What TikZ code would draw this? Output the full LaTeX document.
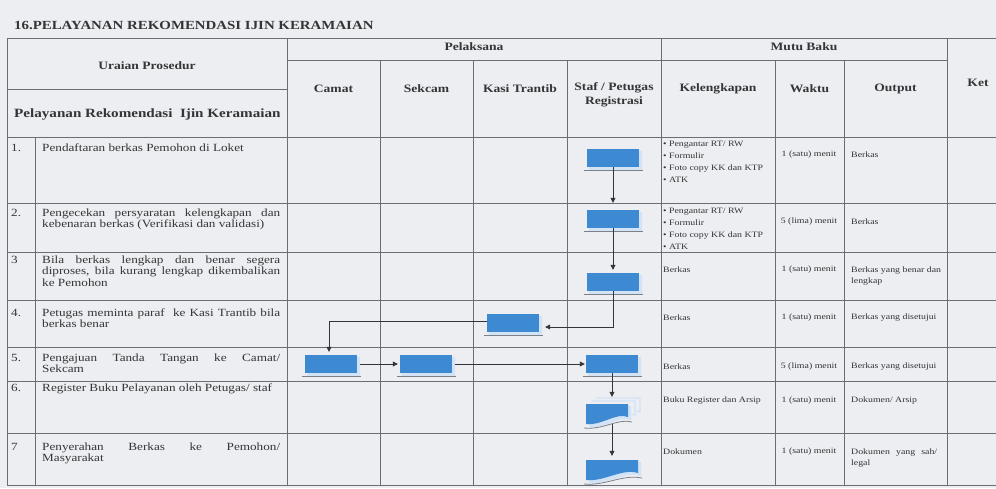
\documentclass[tikz,border=0pt]{standalone}
\usepackage{fontspec}
\setmainfont[FakeStretch=1.2]{Liberation Serif}
\usetikzlibrary{arrows.meta}

\definecolor{bgpaper}{HTML}{EDEEF1}
\definecolor{gridline}{HTML}{6C6D72}
\definecolor{inkgray}{HTML}{353537}
\definecolor{boxblue}{HTML}{3D8AD2}
\definecolor{boxedge}{HTML}{D2E3F6}
\definecolor{shadeline}{HTML}{7C8188}

\newcommand{\judulfont}{\fontsize{12.4}{14}\selectfont\bfseries}
\newcommand{\kepalafont}{\fontsize{11.3}{14.5}\selectfont\bfseries}
\newcommand{\uraianfont}{\fontsize{11}{11.3}\selectfont}
\newcommand{\mutufont}{\fontsize{8.2}{11}\selectfont}
\newcommand{\mutulistfont}{\fontsize{8.2}{12}\selectfont}

\tikzset{
	garis/.style={draw=gridline, line width=0.7pt},
	kepala/.style={font=\kepalafont, text=inkgray, align=center, inner sep=0pt},
	judul/.style={font=\judulfont, text=inkgray, anchor=west, inner sep=0pt},
	uraian/.style={font=\uraianfont, text=inkgray, text width=238pt, align=justify, anchor=north west, inner sep=0pt},
	nomor/.style={font=\uraianfont, text=inkgray, anchor=north west, inner sep=0pt},
	mutu/.style={font=\mutufont, text=inkgray, anchor=west, inner sep=0pt},
	mutulist/.style={font=\mutulistfont, text=inkgray, anchor=north west, align=left, inner sep=0pt},
	waktu/.style={font=\mutufont, text=inkgray, inner sep=0pt},
	prosesbox/.style={rectangle, fill=boxblue, minimum width=52pt, minimum height=18pt, inner sep=0pt},
	docbox/.style={rectangle, minimum width=52pt, minimum height=20pt, inner sep=0pt},
	alur/.style={draw=inkgray, line width=0.7pt, shorten >=3pt, -{Triangle[length=5pt,width=5pt]}},
	bayang/.style={draw=shadeline, line width=0.8pt},
}

\begin{document}
\begin{tikzpicture}[x=1pt,y=-1pt]
	\useasboundingbox (0,0) rectangle (996,488);
	\clip (0,0) rectangle (996,488);
	\fill[bgpaper] (0,0) rectangle (996,488);

	% tabel
	\foreach \y in {38,137,203,252,300,347,381,433,485}
		\draw[garis] (7,\y) -- (1010,\y);
	\draw[garis] (287,60) -- (947,60);
	\draw[garis] (7,89) -- (287,89);
	\foreach \x in {7,287,661,947}
		\draw[garis] (\x,38) -- (\x,485);
	\foreach \x in {380,473,567,775,844}
		\draw[garis] (\x,60) -- (\x,485);
	\draw[garis] (35,137) -- (35,485);

	% judul dan kepala kolom
	\node[judul] (judul) at (14,25) {16.PELAYANAN REKOMENDASI IJIN KERAMAIAN};
	\node[kepala] (uraianh) at (147,66) {Uraian Prosedur};
	\node[judul, font=\fontsize{12.6}{14}\selectfont\bfseries] (layanan) at (14,114) {Pelayanan Rekomendasi\ \ Ijin Keramaian};
	\node[kepala] (pelaksana) at (474,47) {Pelaksana};
	\node[kepala] (mutubaku) at (804,47) {Mutu Baku};
	\node[kepala] (camat) at (333.5,89) {Camat};
	\node[kepala] (sekcam) at (426.5,89) {Sekcam};
	\node[kepala] (kasi) at (520,89) {Kasi Trantib};
	\node[kepala] (staf) at (614,95) {Staf / Petugas\\Registrasi};
	\node[kepala] (lengkap) at (718,89) {Kelengkapan};
	\node[kepala] (waktuh) at (809.5,89) {Waktu};
	\node[kepala] (output) at (895.5,89) {Output};
	\node[kepala] (ket) at (978,83) {Ket};

	% uraian prosedur
	\node[nomor] (n1) at (11,143.5) {\strut 1.};
	\node[uraian] (u1) at (42,143.5) {\strut Pendaftaran berkas Pemohon di Loket};
	\node[nomor] (n2) at (11,208.5) {\strut 2.};
	\node[uraian] (u2) at (42,208.5) {\strut Pengecekan persyaratan kelengkapan dan\linebreak kebenaran berkas (Verifikasi dan validasi)};
	\node[nomor] (n3) at (11,255.5) {\strut 3};
	\node[uraian] (u3) at (42,255.5) {\strut Bila berkas lengkap dan benar segera\linebreak diproses, bila kurang lengkap dikembalikan\linebreak ke Pemohon};
	\node[nomor] (n4) at (11,308.5) {\strut 4.};
	\node[uraian] (u4) at (42,308.5) {\strut Petugas meminta paraf\ \ ke Kasi Trantib bila\linebreak berkas benar};
	\node[nomor] (n5) at (11,353.5) {\strut 5.};
	\node[uraian] (u5) at (42,353.5) {\strut Pengajuan Tanda Tangan ke Camat/\linebreak Sekcam};
	\node[nomor] (n6) at (11,383.5) {\strut 6.};
	\node[uraian] (u6) at (42,383.5) {\strut Register Buku Pelayanan oleh Petugas/ staf};
	\node[nomor] (n7) at (11,442.5) {\strut 7};
	\node[uraian] (u7) at (42,442.5) {\strut Penyerahan Berkas ke Pemohon/\linebreak Masyarakat};

	% mutu baku
	\node[mutulist] (k1) at (663,137.5) {\strut\textbullet\ Pengantar RT/ RW\\\textbullet\ Formulir\\\textbullet\ Foto copy KK dan KTP\\\textbullet\ ATK};
	\node[waktu] (w1) at (809,155) {1 (satu) menit};
	\node[mutu] (o1) at (851,155) {Berkas};
	\node[mutulist] (k2) at (663,204.5) {\strut\textbullet\ Pengantar RT/ RW\\\textbullet\ Formulir\\\textbullet\ Foto copy KK dan KTP\\\textbullet\ ATK};
	\node[waktu] (w2) at (809,222) {5 (lima) menit};
	\node[mutu] (o2) at (851,222) {Berkas};
	\node[mutu] (k3) at (663,270) {Berkas};
	\node[waktu] (w3) at (809,270) {1 (satu) menit};
	\node[mutu, anchor=north west, align=left] (o3) at (851,265) {\strut Berkas yang benar dan\\lengkap};
	\node[mutu] (k4t) at (663,318) {Berkas};
	\node[waktu] (w4) at (809,318) {1 (satu) menit};
	\node[mutu] (o4) at (851,318) {Berkas yang disetujui};
	\node[mutu] (k5t) at (663,367) {Berkas};
	\node[waktu] (w5) at (809,367) {5 (lima) menit};
	\node[mutu] (o5) at (851,367) {Berkas yang disetujui};
	\node[mutu] (k6) at (663,401) {Buku Register dan Arsip};
	\node[waktu] (w6) at (809,401) {1 (satu) menit};
	\node[mutu] (o6) at (851,401) {Dokumen/ Arsip};
	\node[mutu] (k7) at (663,452) {Dokumen};
	\node[waktu] (w7) at (809,452) {1 (satu) menit};
	\node[mutu, anchor=north west, text width=86pt, align=justify] (o7) at (851,447) {\strut Dokumen yang sah/\linebreak legal};

	% simbol proses
	\node[prosesbox] (s1) at (613,158) {};
	\node[prosesbox] (s2) at (613,219) {};
	\node[prosesbox] (s3) at (613,282) {};
	\node[prosesbox] (k4) at (513,323) {};
	\node[prosesbox] (c5) at (331,364) {};
	\node[prosesbox] (e5) at (426,364) {};
	\node[prosesbox] (s5) at (612,364) {};
	\node[docbox] (s6) at (612,414) {};
	\node[docbox] (s7) at (612,470) {};
	\foreach \b in {s1,s2,s3,k4,c5,e5,s5}{
		\fill[boxedge] ([xshift=2pt]\b.south west) -- (\b.south east) -- ([yshift=-2pt]\b.north east)
			-- ([xshift=3pt,yshift=-2pt]\b.north east) -- ([xshift=3pt,yshift=-3pt]\b.south east)
			-- ([xshift=2pt,yshift=-3pt]\b.south west) -- cycle;
		\draw[bayang] ([xshift=-3pt,yshift=-3.5pt]\b.south west) -- ([xshift=3.5pt,yshift=-3.5pt]\b.south east);
	}

	% dokumen ganda
	\begin{scope}[shift={(s6.center)}]
		\draw[boxedge, line width=1.3pt, fill=bgpaper] (-16,-16) -- (28,-16) -- (28,-2) .. controls (20,-4) .. (18,-3);
		\draw[boxedge, line width=1.3pt, fill=bgpaper] (-21,-13) -- (23,-13) -- (23,1) .. controls (15,-1) .. (13,0);
		\fill[boxedge] (-23,-8) -- (19,-8) -- (19,6) .. controls (7,1) and (-7,15) .. (-23,13) -- cycle;
		\draw[bayang] (-28,14) .. controls (-8,16) and (6,4) .. (20,8);
		\fill[boxblue] (-26,-10) -- (16,-10) -- (16,3) .. controls (4,-2) and (-10,12) .. (-26,10) -- cycle;
	\end{scope}

	% dokumen
	\begin{scope}[shift={(s7.center)}]
		\fill[boxedge] (-23,-8) -- (29,-8) -- (29,6) .. controls (13,1) and (-5,15) .. (-23,13) -- cycle;
		\draw[bayang] (-28,14) .. controls (-6,16) and (10,4) .. (30,8);
		\fill[boxblue] (-26,-10) -- (26,-10) -- (26,3) .. controls (10,-2) and (-8,12) .. (-26,10) -- cycle;
	\end{scope}

	% alur
	\draw[alur, shorten >=7pt] (s1.south) -- (s2.north);
	\draw[alur] (s2.south) -- (s3.north);
	\draw[alur] (s3.south) |- ([xshift=3pt,yshift=-4pt]k4.east);
	\draw[alur] ([yshift=2pt]k4.west) -| ([xshift=-2pt]c5.north);
	\draw[alur, shorten >=2pt] ([xshift=3pt]c5.east) -- (e5.west);
	\draw[alur, shorten >=1pt] ([xshift=3pt]e5.east) -- (s5.west);
	\draw[alur, shorten >=7pt] (s5.south) -- (s6.north);
	\draw[alur, shorten >=4pt] (s6.south) -- (s7.north);
\end{tikzpicture}
\end{document}
